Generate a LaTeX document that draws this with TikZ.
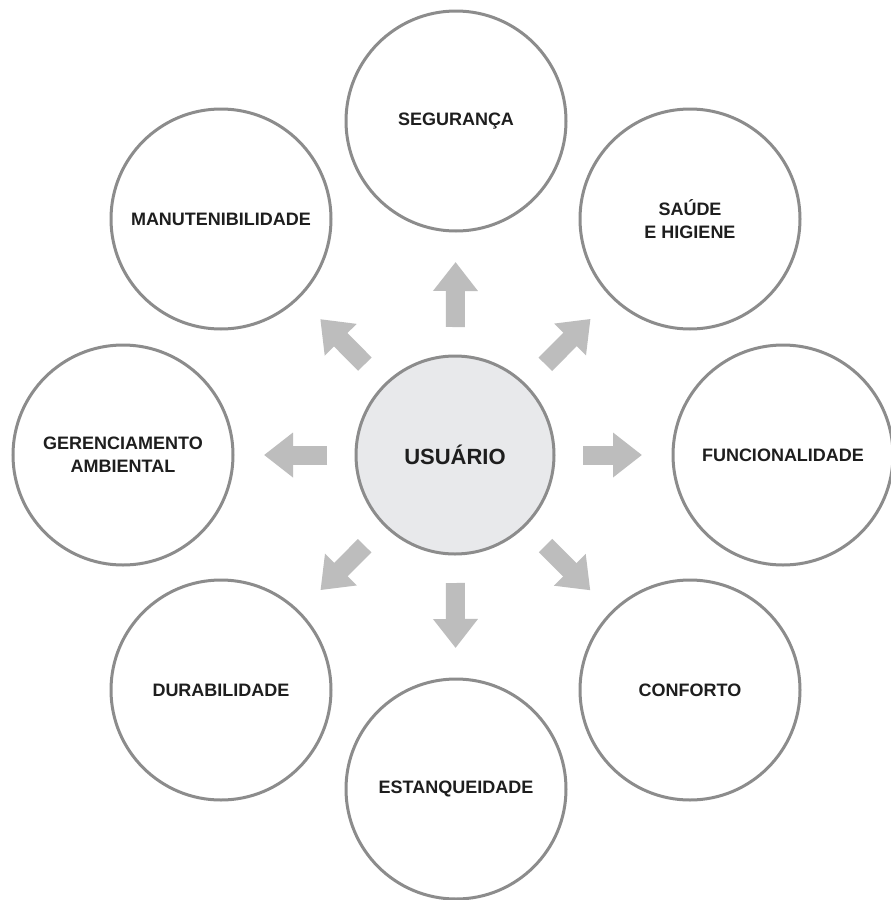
\documentclass[tikz,border=0pt]{standalone}
\usepackage{fontspec}
\setmainfont{Liberation Sans}
\usetikzlibrary{arrows.meta}
\definecolor{ringgray}{HTML}{8C8C8C}
\definecolor{arrowgray}{HTML}{BDBDBD}
\definecolor{hubfill}{HTML}{E8E9EB}
\definecolor{txt}{HTML}{1E1E1E}
\begin{document}
\begin{tikzpicture}[x=1pt,y=-1pt,
  ring/.style={circle,draw=ringgray,line width=3pt,fill=white,minimum size=220pt,inner sep=0pt,outer sep=0pt,
    align=center,text=txt,font=\bfseries\fontsize{18}{23}\selectfont},
  hub/.style={ring,fill=hubfill,minimum size=198pt,font=\bfseries\fontsize{22}{26}\selectfont},
  blk/.style={draw=arrowgray,line width=19pt,line cap=butt,
    -{Triangle[width=43pt,length=29pt]},shorten <=29pt,shorten >=31pt}]
\useasboundingbox (0,0) rectangle (891,900);
\fill[white] (0,0) rectangle (891,900);
\node[hub]  (c)   at (455,455) {USUÁRIO};
\node[ring] (seg) at (456,121) {SEGURANÇA};
\node[ring] (sau) at (690,219) {SAÚDE\\E HIGIENE};
\node[ring] (fun) at (783,455) {FUNCIONALIDADE};
\node[ring] (con) at (690,690) {CONFORTO};
\node[ring] (est) at (456,789) {ESTANQUEIDADE};
\node[ring] (dur) at (221,690) {DURABILIDADE};
\node[ring] (ger) at (123,455) {GERENCIAMENTO\\AMBIENTAL};
\node[ring] (man) at (221,219) {MANUTENIBILIDADE};
\foreach \t in {seg,sau,fun,con,est,dur,ger,man}
  \draw[blk] (c) -- (\t);
\end{tikzpicture}
\end{document}
